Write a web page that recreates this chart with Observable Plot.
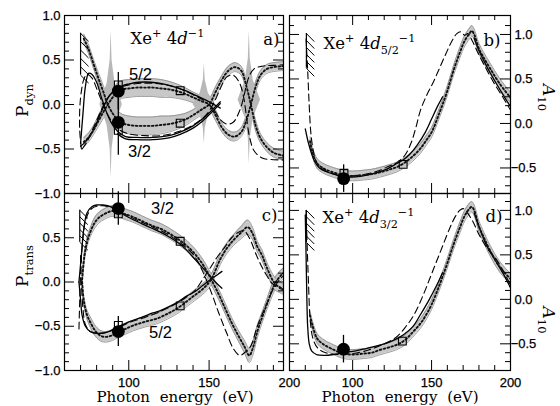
<!DOCTYPE html>
<html><head><meta charset="utf-8">
<script src="https://cdn.jsdelivr.net/npm/d3@7"></script>
<script src="https://cdn.jsdelivr.net/npm/@observablehq/plot@0.6"></script>
<style>
html,body{margin:0;padding:0;background:#fff;}
#fig{position:relative;width:560px;height:406px;overflow:hidden;background:#fff;}
</style></head><body><div id="fig"></div>
<script>
// ===================== DATA =====================
// Photon energy (eV) tick values and labels
const xMajorTicks = [100, 150];
const xMinorTicks = [70, 80, 90, 110, 120, 130, 140, 160, 170, 180, 190];
const xTickLabels = [[100, "100"], [150, "150"], [200, "200"]];
const pTickLabelsA = [[1, "1.0"], [0.5, "0.5"], [0, "0.0"], [-0.5, "−0.5"], [-1, "−1.0"]];
const pTickLabelsC = [[0.5, "0.5"], [0, "0.0"], [-0.5, "−0.5"], [-1, "−1.0"]];
const aTickLabels = [[1, "1.0"], [0.5, "0.5"], [0, "0.0"], [-0.5, "−0.5"]];
const pMajorTicks = [-0.5, 0, 0.5];
const aMajorTicks = [-0.5, 0, 0.5, 1.0];

// threshold hatching: [energy, top, bottom]
const thrA = [70, 0.80, 0.33];
const thrB = [70.7, 1.01, 0.62];
const thrC = [69.5, 0.81, 0.45];
const thrD = [70.7, 1.00, 0.64];

// ---- panel a) P_dyn ----  experiment bands: [E, value, half-width]
const aExp52 = [[72,-0.42,.05],[75,-0.37,.05],[78,-0.29,.05],[81,-0.19,.06],[84,-0.09,.07],[87,0.0,.08],[90,0.08,.09],[93,0.14,.1],[96,0.17,.1],[100,0.18,.1],[105,0.19,.1],[110,0.19,.1],[115,0.19,.1],[120,0.18,.1],[125,0.17,.09],[130,0.15,.08],[135,0.12,.07],[140,0.08,.06],[145,0.04,.06],[150,0.0,.06],[154,-0.12,.06],[158,-0.26,.05],[162,-0.34,.05],[166,-0.36,.05],[170,-0.31,.05],[173,-0.19,.06],[176,0.0,.06],[179,0.2,.06],[182,0.33,.05],[186,0.4,.05],[190,0.42,.05],[195,0.43,.05],[200,0.44,.05]];
const aExp32 = [[72,0.74,.05],[75,0.62,.05],[78,0.46,.05],[81,0.3,.06],[84,0.15,.07],[87,0.0,.08],[90,-0.1,.09],[93,-0.17,.1],[96,-0.21,.1],[100,-0.23,.1],[105,-0.24,.1],[110,-0.24,.1],[115,-0.24,.1],[120,-0.23,.1],[125,-0.22,.09],[130,-0.2,.08],[135,-0.17,.07],[140,-0.12,.06],[145,-0.06,.06],[150,0.0,.06],[154,0.14,.06],[158,0.28,.05],[162,0.38,.05],[166,0.42,.05],[170,0.38,.05],[173,0.22,.06],[176,0.0,.06],[179,-0.24,.06],[182,-0.38,.05],[186,-0.48,.05],[190,-0.54,.05],[195,-0.57,.05],[200,-0.59,.05]];
// uncertainty spikes: [E, centre, top, bottom]
const aSpikes = [[89, 0.0, 0.83, -0.83], [147, 0.0, 0.46, -0.44], [175, 0.05, 0.83, -0.67]];
const aSolid32 = [[70,-0.44],[71.5,-0.1],[73,0.2],[75,0.35],[77,0.34],[80,0.25],[83,0.08],[86,-0.08],[89,-0.2],[93,-0.3],[98,-0.36],[105,-0.37],[115,-0.37],[125,-0.35],[132,-0.31],[140,-0.24],[146,-0.16],[152,-0.06],[157,0.03]];
const aSolid32b = [[93,-0.33],[98,-0.385],[105,-0.395],[115,-0.395],[125,-0.375],[132,-0.335],[140,-0.265],[146,-0.185],[152,-0.08],[157,0.01]];
const aSolid52 = [[70,-0.47],[73,-0.42],[76,-0.35],[79,-0.25],[82,-0.12],[85,0.0],[88,0.1],[92,0.17],[96,0.21],[100,0.23],[106,0.25],[114,0.25],[122,0.23],[130,0.19],[136,0.15],[142,0.1],[148,0.05],[154,-0.01],[157,-0.04]];
const aDash1 = [[70.5,-0.5],[69.5,-0.3],[69.5,-0.05],[70.5,0.15],[72,0.28],[74,0.34],[77,0.3],[80,0.18],[84,0.0],[88,-0.15],[93,-0.27],[100,-0.33],[110,-0.35],[120,-0.35],[130,-0.31],[140,-0.23],[148,-0.12],[153,0.02],[157,0.18],[161,0.31],[165,0.33],[169,0.24],[171.5,0.08],[173,-0.1],[175,-0.35],[178,-0.52],[183,-0.6],[190,-0.62],[200,-0.62]];
const aDash2 = [[71,-0.5],[74,-0.42],[77,-0.3],[80,-0.18],[84,-0.02],[88,0.1],[93,0.18],[100,0.22],[110,0.24],[120,0.23],[130,0.19],[140,0.11],[147,0.04],[153,-0.06],[157,-0.17],[161,-0.22],[165,-0.2],[169,-0.07],[171.5,0.08],[173,0.2],[175,0.32],[178,0.4],[183,0.43],[190,0.44],[200,0.45]];
const aCircles = [[93.5, 0.15, 0.21], [93.5, -0.2, 0.37]];   // [E, value, error]
const aSquares = [[93.5, 0.22], [93.5, -0.29], [132, 0.155], [132, -0.21]];

// ---- panel b) A10, 4d5/2 ----
const bExp = [[73,-0.2,.05],[74.5,-0.32,.05],[77.5,-0.45,.055],[81,-0.5,.055],[86,-0.54,.055],[94,-0.58,.055],[100,-0.59,.055],[107,-0.58,.055],[112,-0.57,.055],[117,-0.55,.055],[123,-0.52,.055],[128,-0.49,.055],[133,-0.44,.055],[138,-0.37,.055],[143,-0.28,.055],[147,-0.18,.055],[150,-0.1,.055],[155,0.12,.055],[159.5,0.34,.055],[164,0.6,.055],[168,0.8,.06],[171,0.93,.06],[174,1.01,.06],[175.5,1.04,.06],[177,1.0,.06],[180,0.84,.06],[183,0.74,.06],[187,0.62,.06],[193,0.45,.06],[200,0.29,.06]];
const bSolid = [[70,-0.06],[72,-0.22],[74,-0.34],[76,-0.43],[79,-0.5],[83,-0.54],[88,-0.57],[94,-0.6],[102,-0.6],[109,-0.58],[116,-0.55],[122,-0.51],[127,-0.46],[132,-0.41],[136.5,-0.34],[141,-0.24],[146,-0.1],[150,0.05],[154,0.2],[157,0.3]];
const bSolidHi = [[177,0.96],[180,0.82],[185,0.64],[190,0.48],[195,0.33],[200,0.19]];
const bDash = [[70.5,0.95],[71.5,0.6],[72.5,0.2],[73.5,-0.1],[75,-0.3],[77,-0.43],[80,-0.5],[85,-0.55],[94,-0.59],[105,-0.58],[115,-0.54],[123,-0.48],[128,-0.44],[133,-0.36],[137,-0.22],[140,-0.05],[143,0.15],[147,0.32],[151,0.46],[155,0.62],[159,0.78],[163,0.93],[166,1.01],[168.5,1.03],[171,0.99],[173,1.01],[176,0.92],[180,0.77],[185,0.6],[190,0.44],[195,0.3],[200,0.15]];
const bCircles = [[94.3, -0.62, 0.155]];
const bSquares = [[94.5, -0.56], [132, -0.46]];

// ---- panel c) P_trans ----
const cExp32 = [[71,0.03,.04],[72.3,0.28,.05],[74,0.45,.05],[76,0.56,.05],[78.5,0.66,.06],[81,0.72,.06],[85,0.77,.06],[89,0.8,.06],[93,0.8,.06],[97,0.77,.06],[102,0.74,.06],[108,0.69,.06],[114,0.64,.06],[120,0.6,.06],[126,0.54,.06],[131,0.48,.06],[136,0.41,.06],[141,0.32,.06],[146,0.2,.06],[151,0.04,.06],[156,-0.14,.06],[160,-0.3,.06],[164,-0.46,.06],[168,-0.6,.06],[172,-0.73,.07],[175,-0.83,.08],[177,-0.76,.08],[180,-0.56,.07],[183,-0.4,.06],[186,-0.25,.06],[191,-0.02,.07],[195,0.08,.06],[200,0.15,.06]];
const cExp52 = [[71,0.0,.04],[72,-0.21,.05],[74,-0.37,.05],[76.5,-0.47,.06],[79.5,-0.56,.06],[82.7,-0.61,.06],[86,-0.62,.06],[90,-0.6,.06],[93,-0.57,.06],[98,-0.53,.06],[103,-0.49,.06],[110,-0.45,.06],[118,-0.41,.06],[125,-0.35,.06],[130,-0.3,.06],[136,-0.22,.06],[141,-0.15,.06],[146,-0.08,.06],[151,0.02,.06],[157,0.26,.06],[161,0.38,.06],[165,0.47,.06],[170,0.56,.07],[174,0.62,.08],[177,0.55,.07],[180,0.4,.06],[183,0.3,.06],[186,0.16,.06],[191,-0.02,.07],[195,-0.07,.06],[200,-0.12,.06]];
const cSolid32 = [[69,0.0],[70.5,0.3],[72,0.6],[74,0.78],[77,0.85],[80,0.87],[84,0.87],[89,0.85],[95,0.78],[101,0.72],[108,0.66],[114,0.61],[120,0.56],[126,0.5],[131,0.44],[136,0.36],[141,0.26],[146,0.16],[151,0.06],[155,-0.02],[158,-0.07]];
const cSolid52 = [[69,0.0],[70,-0.2],[71,-0.38],[73,-0.5],[76,-0.56],[80,-0.58],[86,-0.57],[93,-0.51],[100,-0.45],[108,-0.4],[115,-0.35],[120,-0.32],[126,-0.27],[131,-0.22],[136,-0.16],[141,-0.11],[146,-0.04],[151,0.03],[155,0.08],[158,0.12]];
const cDash32 = [[69,-0.53],[69.5,-0.2],[70.3,0.2],[71.5,0.5],[73.5,0.72],[77,0.83],[82,0.86],[88,0.85],[95,0.79],[105,0.7],[115,0.62],[125,0.53],[135,0.4],[141,0.29],[146,0.12],[151,-0.1],[156,-0.35],[161,-0.58],[165,-0.75],[169,-0.83],[172,-0.8],[176,-0.72],[180,-0.5],[185,-0.28],[190,-0.08],[195,0.05],[200,0.12]];
const cDash52 = [[70,0.3],[70.5,0.0],[71.5,-0.3],[73,-0.48],[76,-0.56],[80,-0.58],[86,-0.57],[93,-0.52],[100,-0.46],[110,-0.4],[120,-0.33],[130,-0.24],[136,-0.17],[141,-0.1],[145,0.0],[150,0.14],[155,0.28],[160,0.4],[164,0.5],[168,0.56],[171.7,0.58],[175,0.5],[180,0.28],[185,0.1],[190,-0.03],[195,-0.08],[200,-0.12]];
const cCircles = [[93.5, 0.83, 0.19], [93.5, -0.56, 0.17]];
const cSquares = [[93.5, 0.77], [93.5, -0.49], [132, 0.46], [132, -0.27]];

// ---- panel d) A10, 4d3/2 ----
const dExp = [[73,-0.18,.05],[74.5,-0.29,.05],[77.5,-0.44,.055],[81,-0.5,.055],[86,-0.55,.055],[94,-0.61,.055],[100,-0.62,.055],[107,-0.61,.055],[112,-0.6,.055],[117,-0.57,.055],[123,-0.54,.055],[128,-0.51,.055],[133,-0.46,.055],[138,-0.37,.055],[143,-0.27,.055],[147,-0.16,.055],[150,-0.06,.055],[155,0.16,.055],[159.5,0.38,.055],[164,0.62,.055],[168,0.81,.06],[171,0.94,.06],[174,1.02,.06],[175.5,1.04,.06],[177,1.0,.06],[180,0.82,.06],[183,0.7,.06],[187,0.55,.06],[193,0.37,.06],[200,0.23,.06]];
const dSolid = [[70,0.95],[70.5,0.5],[71,0.0],[71.5,-0.3],[72.5,-0.5],[74,-0.58],[77,-0.62],[82,-0.63],[88,-0.62],[94,-0.6],[102,-0.58],[109,-0.55],[116,-0.52],[122,-0.49],[127,-0.45],[132,-0.4],[138,-0.31],[143,-0.17],[148,-0.02],[153,0.15],[157,0.3]];
const dSolidHi = [[177,0.97],[180,0.82],[185,0.6],[191,0.42],[196,0.27],[200,0.13]];
const dDash = [[70.5,1.0],[71.2,0.6],[72,0.2],[73.2,-0.25],[75,-0.45],[78,-0.55],[83,-0.6],[90,-0.62],[100,-0.61],[110,-0.57],[120,-0.5],[128,-0.42],[134,-0.3],[139,-0.17],[144.5,0.04],[149,0.24],[153,0.42],[157,0.6],[161.5,0.8],[165,0.93],[167.8,1.0],[170,1.02],[172,0.99],[176,0.88],[180,0.73],[185,0.58],[191,0.45],[196,0.3],[200,0.16]];
const dCircles = [[94.2, -0.56, 0.155]];
const dSquares = [[131.5, -0.47]];

// ---- texts ----
const labelA = [["Xe",""],["+","sup"],[" 4",""],["d","it"],["−1","sup"]];
const labelB = [["Xe",""],["+","sup"],[" 4",""],["d","it"],["5/2","sub"],["−1","sup"]];
const labelD = [["Xe",""],["+","sup"],[" 4",""],["d","it"],["3/2","sub"],["−1","sup"]];
const yTitleA = [["P",""],["dyn","sub"]];
const yTitleC = [["P",""],["trans","sub"]];
const yTitleR = [["A","it"],["10","sub"]];
const xTitle = "Photon energy (eV)";

// ===================== DRAWING =====================
const W = 560, H = 406;
const fig = document.getElementById("fig");
const rich = new Map();
const plain = parts => parts.map(p => p[0]).join("");
function reg(parts, size) { rich.set(plain(parts), {parts, size}); return plain(parts); }

const SERIF = "DejaVu Serif", SANS = "Liberation Sans";
const xy = a => a.map(([x, y]) => ({x, y}));

function bandMarks(band) {
  const rows = band.map(([x, y, w]) => ({x, y, lo: y - w, hi: y + w}));
  return [
    Plot.areaY(rows, {x: "x", y1: "lo", y2: "hi", fill: "#c8c8c8", curve: "catmull-rom", clip: true}),
    Plot.line(rows, {x: "x", y: "lo", stroke: "#888", strokeWidth: 0.8, curve: "catmull-rom", clip: true}),
    Plot.line(rows, {x: "x", y: "hi", stroke: "#888", strokeWidth: 0.8, curve: "catmull-rom", clip: true})
  ];
}
function bandCentre(band) {
  return Plot.line(band.map(([x, y]) => ({x, y})), {x: "x", y: "y", stroke: "#111", strokeWidth: 1.9, strokeDasharray: "1.6,2.4", curve: "catmull-rom", clip: true});
}
const spikeOff = [-7, -2.5, -0.6, 0, 0.6, 2.5, 7], spikeFrac = [0, 0.28, 0.6, 1, 0.6, 0.28, 0];
function spikeMarks(spikes) {
  return spikes.map(([e, c, t, b]) => Plot.areaY(spikeOff.map((o, i) => ({x: e + o, y1: c - (c - b) * spikeFrac[i], y2: c + (t - c) * spikeFrac[i]})),
    {x: "x", y1: "y1", y2: "y2", fill: "#b8b8b8", clip: true}));
}
const solid = a => Plot.line(xy(a), {x: "x", y: "y", stroke: "black", strokeWidth: 1.3, curve: "catmull-rom", clip: true});
const dashed = a => Plot.line(xy(a), {x: "x", y: "y", stroke: "black", strokeWidth: 1.1, strokeDasharray: "7,4", curve: "catmull-rom", clip: true});
function pointMarks(circles, squares) {
  const c = circles.map(([x, y, e]) => ({x, y, lo: y - e, hi: y + e}));
  const s = squares.map(([x, y]) => ({x, y}));
  return [
    Plot.ruleX(c, {x: "x", y1: "lo", y2: "hi", stroke: "black", strokeWidth: 1.3}),
    Plot.dot(s, {x: "x", y: "y", symbol: "square", r: 4.4, fill: "none", stroke: "black", strokeWidth: 1.1}),
    Plot.dot(c, {x: "x", y: "y", r: 6.4, fill: "black"})
  ];
}
function hatchMarks([e, top, bot]) {
  const n = 6, rows = [];
  for (let i = 0; i < n; i++) {
    const y = top - (top - bot) * i / (n - 1);
    rows.push({x1: e, y1: y, x2: e + 5, y2: y - 0.09});
  }
  return [
    Plot.ruleX([e], {x: d => d, y1: top, y2: bot, stroke: "black", strokeWidth: 1.2}),
    Plot.link(rows, {x1: "x1", y1: "y1", x2: "x2", y2: "y2", stroke: "black", strokeWidth: 1})
  ];
}
function tickMarks(fw, fh, yMajor, yMinor) {
  const MJ = 10, MN = 5;
  return [
    Plot.ruleX(xMajorTicks, {x: d => d, insetTop: fh - MJ, stroke: "black"}),
    Plot.ruleX(xMajorTicks, {x: d => d, insetBottom: fh - MJ, stroke: "black"}),
    Plot.ruleX(xMinorTicks, {x: d => d, insetTop: fh - MN, stroke: "black"}),
    Plot.ruleX(xMinorTicks, {x: d => d, insetBottom: fh - MN, stroke: "black"}),
    Plot.ruleY(yMajor, {y: d => d, insetRight: fw - MJ, stroke: "black"}),
    Plot.ruleY(yMajor, {y: d => d, insetLeft: fw - MJ, stroke: "black"}),
    Plot.ruleY(yMinor, {y: d => d, insetRight: fw - MN, stroke: "black"}),
    Plot.ruleY(yMinor, {y: d => d, insetLeft: fw - MN, stroke: "black"})
  ];
}
const minorP = d3.range(-9, 10).map(i => i / 10).filter(v => !pMajorTicks.includes(v));
const minorA = d3.range(-7, 12).map(i => i / 10).filter(v => !aMajorTicks.includes(v));

function richify(svg) {
  d3.select(svg).selectAll("text").each(function () {
    if (this.textContent === xTitle) { d3.select(this).attr("word-spacing", 5); return; }
    const spec = rich.get(this.textContent);
    if (!spec) return;
    const base = spec.size, sel = d3.select(this);
    sel.text(null);
    let shift = 0;
    for (const [t, kind] of spec.parts) {
      const ts = sel.append("tspan").text(t);
      let target = 0, fs = base;
      if (kind.includes("sup")) { target = -0.42 * base; fs = 0.68 * base; }
      if (kind.includes("sub")) { target = 0.32 * base; fs = 0.68 * base; }
      if (kind.includes("it")) ts.attr("font-style", "italic");
      ts.attr("font-size", fs);
      if (target - shift) ts.attr("dy", target - shift);
      shift = target;
    }
  });
}

function panel(o) {
  const fw = o.right - o.left, fh = o.bottom - o.top;
  const svg = Plot.plot({
    width: W, height: H,
    marginLeft: o.left, marginRight: W - o.right, marginTop: o.top, marginBottom: H - o.bottom,
    x: {domain: o.xDomain, axis: null},
    y: {domain: o.yDomain, axis: null},
    style: "position:absolute;left:0;top:0;background:transparent;overflow:visible;",
    marks: [
      ...o.marks,
      ...tickMarks(fw, fh, o.yMajor, o.yMinor),
      Plot.frame({stroke: "black", strokeWidth: 1.2}),
      ...o.texts
    ]
  });
  richify(svg);
  fig.appendChild(svg);
}

const tickText = (labels, opts) => Plot.text(labels, {text: d => d[1], fontFamily: SANS, fontSize: 13, fill: "black", stroke: "black", strokeWidth: 0.25, ...opts});

// ---- panel a
panel({
  left: 64, right: 283, top: 15, bottom: 193, xDomain: [60, 196.3], yDomain: [-1, 1],
  yMajor: pMajorTicks, yMinor: minorP,
  marks: [
    ...bandMarks(aExp52), ...bandMarks(aExp32), ...spikeMarks(aSpikes),
    ...hatchMarks(thrA),
    dashed(aDash1), dashed(aDash2), solid(aSolid52), solid(aSolid32), solid(aSolid32b),
    bandCentre(aExp52), bandCentre(aExp32),
    ...pointMarks(aCircles, aSquares)
  ],
  texts: [
    tickText(pTickLabelsA, {y: d => d[0], frameAnchor: "left", textAnchor: "end", dx: -4}),
    Plot.text([reg(labelA, 16.5)], {frameAnchor: "top-left", textAnchor: "start", lineAnchor: "middle", dx: 66, dy: 23, fontFamily: SERIF, fontSize: 16.5, fill: "black"}),
    Plot.text(["a)"], {frameAnchor: "top-right", textAnchor: "end", lineAnchor: "middle", dx: -4, dy: 24, fontFamily: SERIF, fontSize: 16.5, fill: "black"}),
    Plot.text(["5/2"], {frameAnchor: "top-left", textAnchor: "middle", lineAnchor: "middle", dx: 76, dy: 59, fontFamily: SANS, fontSize: 16.5, fill: "black"}),
    Plot.text(["3/2"], {frameAnchor: "top-left", textAnchor: "middle", lineAnchor: "middle", dx: 75, dy: 136, fontFamily: SANS, fontSize: 16.5, fill: "black"}),
    Plot.text([reg(yTitleA, 17)], {frameAnchor: "left", textAnchor: "middle", lineAnchor: "middle", rotate: -90, dx: -42, dy: -4, fontFamily: SERIF, fontSize: 17, fill: "black"})
  ]
});

// ---- panel b
panel({
  left: 289, right: 510, top: 15, bottom: 193, xDomain: [60, 200], yDomain: [-0.787, 1.213],
  yMajor: aMajorTicks, yMinor: minorA,
  marks: [
    ...bandMarks(bExp), ...hatchMarks(thrB),
    dashed(bDash), solid(bSolid), solid(bSolidHi),
    bandCentre(bExp),
    ...pointMarks(bCircles, bSquares)
  ],
  texts: [
    tickText(aTickLabels, {y: d => d[0], frameAnchor: "right", textAnchor: "middle", dx: 13}),
    Plot.text([reg(labelB, 16.5)], {frameAnchor: "top-left", textAnchor: "start", lineAnchor: "middle", dx: 34, dy: 28, fontFamily: SERIF, fontSize: 16.5, fill: "black"}),
    Plot.text(["b)"], {frameAnchor: "top-right", textAnchor: "end", lineAnchor: "middle", dx: -10, dy: 25, fontFamily: SERIF, fontSize: 16.5, fill: "black"}),
    Plot.text([reg(yTitleR, 17)], {frameAnchor: "right", textAnchor: "middle", lineAnchor: "middle", rotate: 90, dx: 38, dy: -7, fontFamily: SERIF, fontSize: 17, fill: "black"})
  ]
});

// ---- panel c
panel({
  left: 64, right: 283, top: 193, bottom: 370, xDomain: [60, 196.3], yDomain: [-1, 1],
  yMajor: pMajorTicks, yMinor: minorP,
  marks: [
    ...bandMarks(cExp32), ...bandMarks(cExp52), ...hatchMarks(thrC),
    dashed(cDash32), dashed(cDash52), solid(cSolid32), solid(cSolid52),
    bandCentre(cExp32), bandCentre(cExp52),
    ...pointMarks(cCircles, cSquares)
  ],
  texts: [
    tickText(pTickLabelsC, {y: d => d[0], frameAnchor: "left", textAnchor: "end", dx: -4}),
    tickText(xTickLabels, {x: d => d[0], frameAnchor: "bottom", textAnchor: "middle", lineAnchor: "middle", dy: 12}),
    Plot.text([xTitle], {frameAnchor: "bottom", textAnchor: "middle", lineAnchor: "middle", dx: 1, dy: 27, fontFamily: SERIF, fontSize: 15, fill: "black"}),
    Plot.text(["c)"], {frameAnchor: "top-right", textAnchor: "end", lineAnchor: "middle", dx: -6, dy: 22, fontFamily: SERIF, fontSize: 16.5, fill: "black"}),
    Plot.text(["3/2"], {frameAnchor: "top-left", textAnchor: "middle", lineAnchor: "middle", dx: 98, dy: 15, fontFamily: SANS, fontSize: 16.5, fill: "black"}),
    Plot.text(["5/2"], {frameAnchor: "top-left", textAnchor: "middle", lineAnchor: "middle", dx: 96, dy: 139, fontFamily: SANS, fontSize: 16.5, fill: "black"}),
    Plot.text([reg(yTitleC, 17)], {frameAnchor: "left", textAnchor: "middle", lineAnchor: "middle", rotate: -90, dx: -42, dy: -16, fontFamily: SERIF, fontSize: 17, fill: "black"})
  ]
});

// ---- panel d
panel({
  left: 289, right: 510, top: 193, bottom: 370, xDomain: [60, 200], yDomain: [-0.80, 1.19],
  yMajor: aMajorTicks, yMinor: minorA,
  marks: [
    ...bandMarks(dExp), ...hatchMarks(thrD),
    dashed(dDash), solid(dSolid), solid(dSolidHi),
    bandCentre(dExp),
    ...pointMarks(dCircles, dSquares)
  ],
  texts: [
    tickText(aTickLabels, {y: d => d[0], frameAnchor: "right", textAnchor: "middle", dx: 13}),
    tickText(xTickLabels, {x: d => d[0], frameAnchor: "bottom", textAnchor: "middle", lineAnchor: "middle", dy: 12}),
    Plot.text([xTitle], {frameAnchor: "bottom", textAnchor: "middle", lineAnchor: "middle", dx: 0, dy: 27, fontFamily: SERIF, fontSize: 15, fill: "black"}),
    Plot.text([reg(labelD, 16.5)], {frameAnchor: "top-left", textAnchor: "start", lineAnchor: "middle", dx: 33, dy: 24, fontFamily: SERIF, fontSize: 16.5, fill: "black"}),
    Plot.text(["d)"], {frameAnchor: "top-right", textAnchor: "end", lineAnchor: "middle", dx: -8, dy: 23, fontFamily: SERIF, fontSize: 16.5, fill: "black"}),
    Plot.text([reg(yTitleR, 17)], {frameAnchor: "right", textAnchor: "middle", lineAnchor: "middle", rotate: 90, dx: 38, dy: 38, fontFamily: SERIF, fontSize: 17, fill: "black"})
  ]
});
</script></body></html>
